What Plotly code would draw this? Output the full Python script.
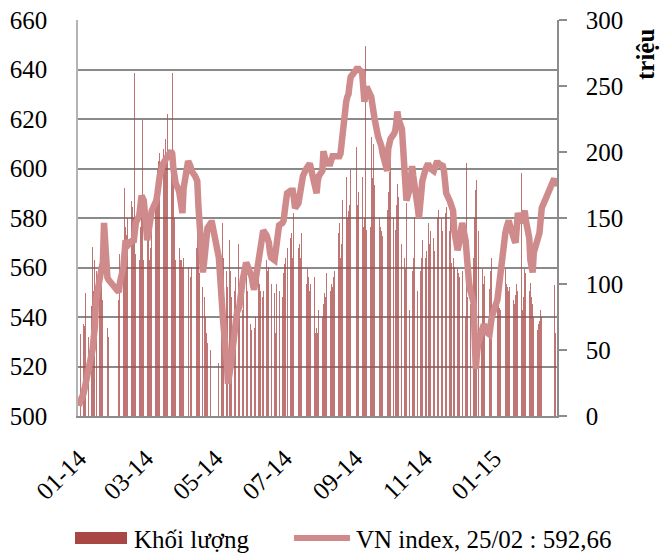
import pandas as pd
import plotly.graph_objects as go

# ---- trading calendar (HOSE closures) ----
holidays = ["2014-01-01", "2014-01-29", "2014-01-30", "2014-01-31", "2014-02-03", "2014-02-04",
            "2014-02-05", "2014-04-09", "2014-04-30", "2014-05-01", "2014-05-02", "2014-09-01",
            "2014-09-02", "2015-01-01", "2015-01-02", "2015-02-16", "2015-02-17", "2015-02-18",
            "2015-02-19", "2015-02-20", "2015-02-23"]
dates = pd.bdate_range("2014-01-02", "2015-02-25", freq="C", holidays=holidays)

# ---- VN index (left axis), one value per trading day ----
vn_index = (
    [504, 506, 509, 511, 514, 516, 519, 523, 527, 532, 536, 547, 557, 558, 560, 562, 578, 556, 555]  # Jan 14
    + [550, 554, 560, 566, 571, 570, 569, 570, 571, 570, 574, 578, 581, 588, 589, 588, 587]  # Feb 14
    + [571, 574, 578, 581, 583, 586, 587, 590, 594, 597, 602, 603, 603, 604, 605, 607, 606, 600, 597, 594, 591]  # Mar 14
    + [588, 584, 582, 592, 602, 603, 601, 599, 597, 596, 595, 585, 578, 558, 562, 570, 572, 576, 578, 578]  # Apr 14
    + [564, 556, 549, 542, 537, 522, 513, 516, 519, 523, 538, 541, 542, 543, 544, 555, 557, 560, 562, 561]  # May 14
    + [558, 556, 553, 551, 554, 563, 566, 570, 573, 575, 573, 572, 570, 566, 564, 563, 568, 573, 576, 577, 578]  # Jun 14
    + [579, 583, 586, 590, 591, 591, 591, 588, 584, 586, 589, 590, 594, 597, 600, 601, 602, 602, 600, 594, 591, 590, 595]  # Jul 14
    + [597, 599, 607, 605, 603, 602, 602, 604, 605, 605, 605, 605, 605, 606, 610, 619, 627, 629, 630, 634, 637]  # Aug 14
    + [640, 641, 640, 639, 633, 627, 630, 633, 630, 629, 626, 622, 620, 613, 612, 611, 609, 606, 601, 599]  # Sep 14
    + [608, 611, 612, 614, 615, 618, 623, 620, 616, 609, 603, 595, 587, 592, 597, 601, 597, 592, 584, 580, 585, 590, 595]  # Oct 14
    + [600, 601, 602, 601, 600, 599, 601, 603, 603, 602, 601, 601, 599, 594, 590, 587, 586, 585, 583, 575]  # Nov 14
    + [567, 569, 572, 577, 578, 571, 563, 556, 554, 551, 546, 532, 519, 525, 529, 534, 537, 537, 536, 534, 533, 537, 540]  # Dec 14
    + [547, 551, 556, 561, 566, 574, 576, 578, 579, 577, 571, 571, 570, 576, 582, 578, 580, 582, 583, 579]  # Jan 15
    + [572, 563, 559, 558, 566, 572, 573, 574, 579, 584, 596, 592.66]  # Feb 15
)

# ---- Volume, millions of shares (right axis) ----
volume = (
    [57, 62, 70, 68, 93, 105, 60, 83, 128, 95, 118, 110, 90, 98, 105, 88, 55, 67, 60]
    + [88, 123, 133, 173, 143, 137, 150, 163, 158, 150, 260, 123, 118, 143, 164, 224, 118]
    + [147, 140, 118, 127, 150, 173, 167, 186, 193, 199, 202, 193, 210, 195, 229, 193, 260, 193, 150, 118, 127]
    + [118, 118, 113, 120, 113, 113, 105, 113, 127, 127, 164, 140, 108, 98, 90, 75, 63, 55, 50, 60]
    + [40, 70, 100, 146, 120, 110, 98, 133, 110, 90, 95, 105, 110, 130, 95, 80, 100, 127, 110, 95]
    + [70, 65, 60, 67, 75, 113, 100, 95, 90, 95, 118, 110, 113, 122, 100, 93, 63, 100, 133, 95, 90]
    + [108, 115, 120, 127, 135, 139, 120, 154, 150, 127, 130, 120, 139, 143, 100, 111, 105, 95, 100, 105, 63, 67, 63]
    + [80, 75, 85, 93, 90, 108, 95, 100, 98, 105, 110, 139, 146, 120, 130, 164, 181, 150, 155, 160, 186]
    + [204, 160, 170, 181, 143, 150, 280, 141, 143, 211, 180, 206, 175, 145, 150, 143, 140, 136, 126, 156]
    + [170, 185, 196, 150, 141, 160, 176, 166, 130, 115, 120, 111, 161, 80, 88, 110, 120, 151, 95, 115, 110, 120, 133]
    + [120, 125, 146, 130, 140, 135, 125, 130, 150, 156, 150, 140, 145, 154, 158, 140, 150, 116, 120, 113]
    + [111, 108, 105, 103, 110, 75, 192, 90, 82, 85, 120, 150, 171, 179, 140, 60, 111, 100, 106, 84, 96, 110, 120]
    + [94, 85, 82, 80, 82, 111, 100, 98, 95, 98, 88, 85, 92, 100, 95, 184, 80, 90, 111, 108]
    + [95, 101, 90, 85, 75, 65, 70, 72, 80, 75, 99, 63]
)

tick_vals = ["2014-01-02", "2014-03-02", "2014-05-02", "2014-07-02", "2014-09-02", "2014-11-02", "2015-01-02"]
tick_text = ["01-14", "03-14", "05-14", "07-14", "09-14", "11-14", "01-15"]

bar_name = "Khối lượng"
line_name = "VN index, 25/02 : 592,66"
unit_title = "triệu"

n = min(len(dates), len(vn_index), len(volume))
dates = dates[:n]

BAR_COLOR = "#A94744"
LINE_COLOR = "#CF8B8B"
FONT = "Liberation Serif"
tfont = dict(family=FONT, size=25, color="black")

# page body has an 8px margin: shift the figure so the plot lands where the reference has it
OFF = 8
PL, PT, PW, PH = 78 - OFF, 20 - OFF, 479, 396
FIG_W, FIG_H = 670 - OFF, 553 - OFF

fig = go.Figure()
fig.add_trace(go.Bar(
    x=dates, y=volume[:n], yaxis="y", name=bar_name,
    marker=dict(color="rgba(169,71,68,0.75)", line=dict(width=0)),
    width=0.8 * 86400000, showlegend=False,
))
fig.add_trace(go.Scatter(
    x=dates, y=vn_index[:n], yaxis="y2", mode="lines", name=line_name,
    line=dict(color=LINE_COLOR, width=6.5), showlegend=False,
))

fig.update_layout(
    width=FIG_W, height=FIG_H,
    margin=dict(l=PL, r=FIG_W - PL - PW, t=PT, b=FIG_H - PT - PH, autoexpand=False),
    paper_bgcolor="white", plot_bgcolor="white",
    font=tfont,
    bargap=0,
    xaxis=dict(
        type="date", range=["2014-01-01 03:00", "2015-02-26 10:00"],
        tickvals=tick_vals, ticktext=tick_text, tickangle=-45, tickfont=tfont,
        showgrid=False, showline=True, linecolor="#8c8c8c", linewidth=1.5,
        ticks="", zeroline=False, ticklabelstandoff=16, automargin=False,
        ticklabeloverflow="allow",
    ),
    yaxis=dict(
        side="right", range=[0, 300], dtick=50, showgrid=False, tickfont=tfont,
        showline=True, linecolor="#8c8c8c", linewidth=1.5,
        ticks="outside", ticklen=8, tickcolor="#8c8c8c", tickwidth=1.5,
        ticklabelstandoff=14, zeroline=False, automargin=False,
        ticklabeloverflow="allow",
    ),
    yaxis2=dict(
        overlaying="y", side="left", anchor="x", range=[500, 660], dtick=20,
        showgrid=True, gridcolor="#8a8a8a", gridwidth=1.5, tickfont=tfont,
        showline=True, linecolor="#b4b4b4", linewidth=1.5,
        ticks="", ticklabelstandoff=24, zeroline=False, automargin=False,
        ticklabeloverflow="allow",
    ),
)


# reference-pixel -> paper coordinates
def px_x(px):
    return (px - 78) / PW


def px_y(py):
    return (416 - py) / PH


# axis unit title (rotated, at top of right axis)
fig.add_annotation(
    text="<b>" + unit_title + "</b>", xref="paper", yref="paper",
    x=px_x(646), y=px_y(55), xanchor="center", yanchor="middle",
    textangle=-90, showarrow=False, font=tfont,
)

# legend drawn to match the reference layout
fig.add_shape(type="rect", xref="paper", yref="paper",
              x0=px_x(75), x1=px_x(127), y0=px_y(532), y1=px_y(544),
              fillcolor=BAR_COLOR, line=dict(width=0))
fig.add_annotation(text=bar_name, xref="paper", yref="paper",
                   x=px_x(132), y=px_y(539), xanchor="left", yanchor="middle",
                   showarrow=False, font=tfont)
fig.add_shape(type="line", xref="paper", yref="paper",
              x0=px_x(294), x1=px_x(350), y0=px_y(538), y1=px_y(538),
              line=dict(color=LINE_COLOR, width=6))
fig.add_annotation(text=line_name, xref="paper", yref="paper",
                   x=px_x(354), y=px_y(539), xanchor="left", yanchor="middle",
                   showarrow=False, font=tfont)

fig.write_html("out.html")
